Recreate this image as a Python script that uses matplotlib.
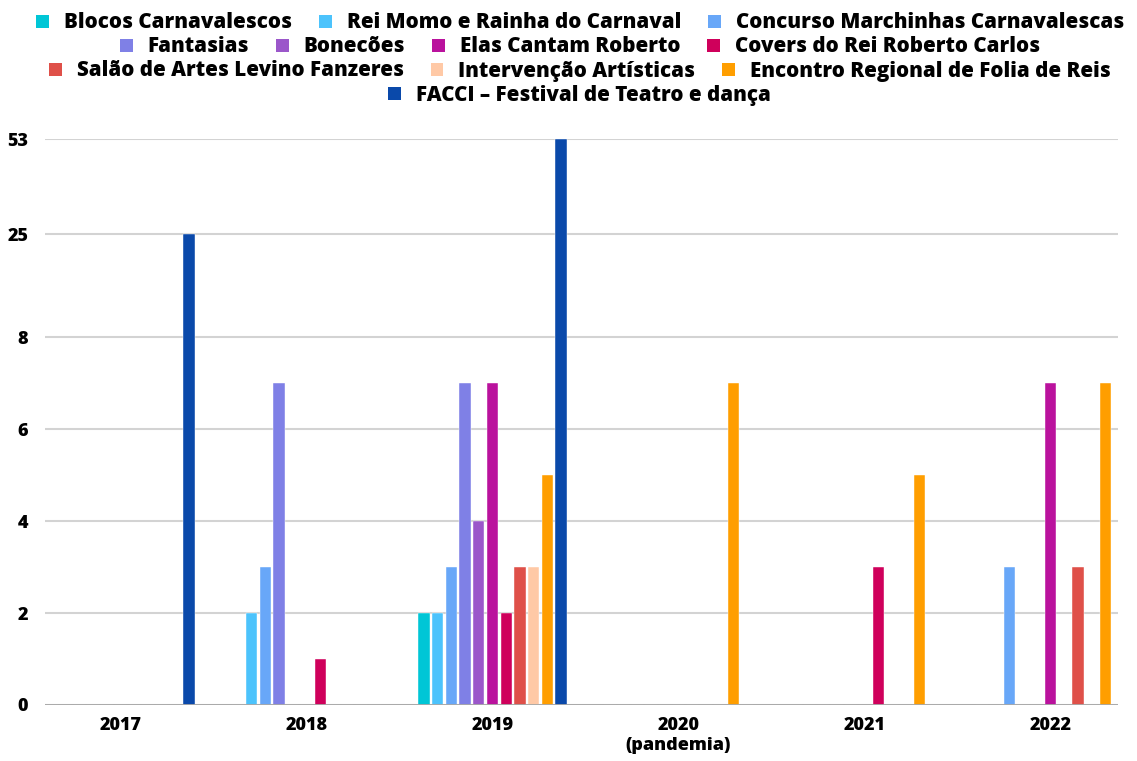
import numpy as np
import matplotlib
matplotlib.use("Agg")
import matplotlib.pyplot as plt
from matplotlib.patches import Patch

plt.rcParams['font.family'] = ['Open Sans', 'DejaVu Sans']
plt.rcParams['font.weight'] = 'heavy'

# Dados
anos = ["2017", "2018", "2019", "2020\n(pandemia)", "2021", "2022"]
series = [
    "Blocos Carnavalescos",
    "Rei Momo e Rainha do Carnaval",
    "Concurso Marchinhas Carnavalescas",
    "Fantasias",
    "Bonecões",
    "Elas Cantam Roberto",
    "Covers do Rei Roberto Carlos",
    "Salão de Artes Levino Fanzeres",
    "Intervenção Artísticas",
    "Encontro Regional de Folia de Reis",
    "FACCI – Festival de Teatro e dança",
]
blocos = [0, 0, 2, 0, 0, 0]
rei_momo = [0, 2, 2, 0, 0, 0]
marchinhas = [0, 3, 3, 0, 0, 3]
fantasias = [0, 7, 7, 0, 0, 0]
bonecoes = [0, 0, 4, 0, 0, 0]
elas_cantam = [0, 0, 7, 0, 0, 7]
covers = [0, 1, 2, 0, 3, 0]
salao = [0, 0, 3, 0, 0, 3]
intervencao = [0, 0, 3, 0, 0, 0]
folia_reis = [0, 0, 5, 7, 5, 7]
facci = [25, 0, 53, 0, 0, 0]
valores = [blocos, rei_momo, marchinhas, fantasias, bonecoes, elas_cantam,
           covers, salao, intervencao, folia_reis, facci]

cores = ["#00C6D6", "#4CC3FC", "#68A7F8", "#7F80E6", "#9B57CA", "#BA129D",
         "#CF005B", "#DF5049", "#FFC9A6", "#FF9E00", "#0A49AA"]

yticks = [0, 2, 4, 6, 8, 25, 53]

# escala do eixo y (linear até 8, depois comprimida)
ref_v = [0, 8, 25, 53]
ref_p = [0, 8, 10.24, 12.3]

def fwd(v):
    return np.interp(v, ref_v, ref_p)

def inv(p):
    return np.interp(p, ref_p, ref_v)

fig = plt.figure(figsize=(11.37, 7.61), dpi=100)
ax = fig.add_axes([0.0396, 0.0736, 0.9437, 0.7434])
ax.set_yscale('function', functions=(fwd, inv))

x = np.arange(len(anos))
passo = 0.0737
largura = 0.061
n = len(series)
for i, (vals, cor) in enumerate(zip(valores, cores)):
    ax.bar(x + (i - (n - 1) / 2) * passo, vals, largura, color=cor,
           edgecolor='white', linewidth=0.3, zorder=3)

ax.set_ylim(0, 53)
ax.set_xlim(-0.406, 5.363)
ax.set_yticks(yticks)
ax.set_yticklabels([str(t) for t in yticks])
ax.set_xticks(x)
ax.set_xticklabels(anos)
ax.tick_params(axis='both', length=0, labelsize=13)
ax.tick_params(axis='y', pad=12)
ax.tick_params(axis='x', pad=9)
ax.grid(axis='y', color='#D3D3D3', linewidth=1.5)
ax.set_axisbelow(True)
ax.axhline(0, color='#A6A6A6', linewidth=2, zorder=4)
for s in ax.spines.values():
    s.set_visible(False)

# legenda em linhas centradas
linhas = [[0, 1, 2], [3, 4, 5, 6], [7, 8, 9], [10]]
ys = [23, 47, 71, 95]
for idx, yy in zip(linhas, ys):
    handles = [Patch(facecolor=cores[k], label=series[k]) for k in idx]
    fig.legend(handles=handles, loc='center', ncol=len(idx),
               bbox_to_anchor=(0.51, 1 - yy / 761), frameon=False,
               fontsize=14.8, handlelength=0.63, handleheight=0.63,
               handletextpad=0.73, columnspacing=1.3, borderpad=0, borderaxespad=0)

fig.savefig("out.png", dpi=100)
